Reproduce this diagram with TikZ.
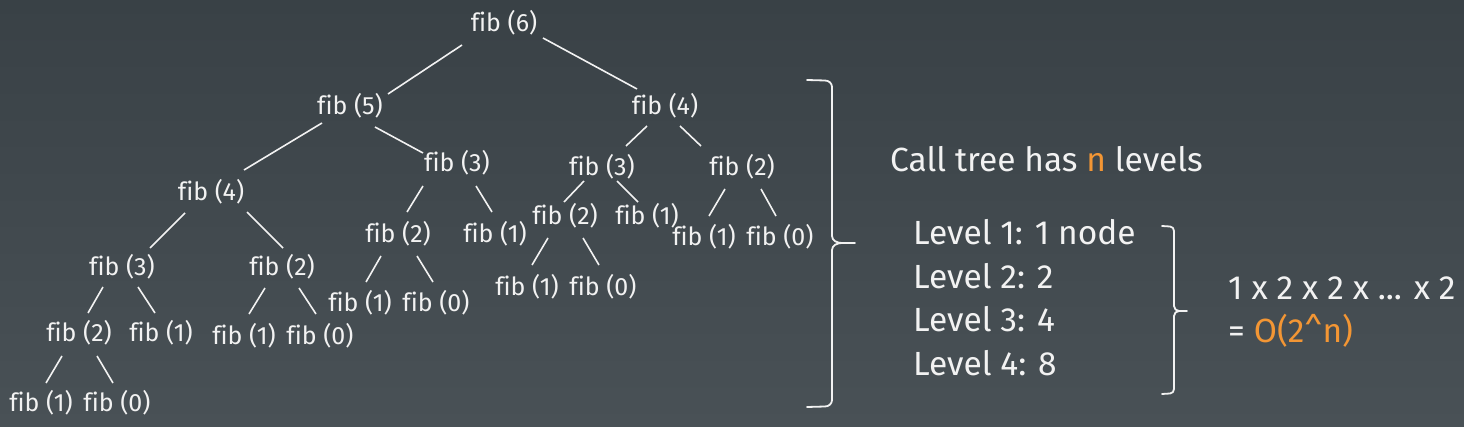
\documentclass[tikz,border=0pt]{standalone}
\usepackage{fontspec}
\setmainfont[Ligatures=NoCommon]{Fira Sans}
\newfontfamily\fibfont[Ligatures=NoCommon]{Fira Sans}
\definecolor{bgtop}{RGB}{57,65,70}
\definecolor{bgbot}{RGB}{73,81,86}
\definecolor{fg}{RGB}{242,242,242}
\definecolor{accent}{RGB}{243,150,52}
\newcommand\fedge[4]{\draw[edge] ([shift={#2}]#1.center) -- ([shift={#4}]#3.center);}
\begin{document}
\begin{tikzpicture}[x=1pt,y=-1pt,
  fib/.style={text=fg,font=\fibfont\fontsize{25}{25}\selectfont,inner sep=0pt,anchor=center},
  edge/.style={draw=fg,line width=1.6pt},
  txt/.style={text=fg,font=\fontsize{33.5}{33.5}\selectfont,inner sep=0pt,anchor=base west},
  bracepath/.style={draw=fg,line width=1.8pt,line cap=round,line join=round}]
\shade[top color=bgtop,bottom color=bgbot] (0,0) rectangle (1464,427);
\useasboundingbox (0,0) rectangle (1464,427);
% tree nodes
\node[fib] (a6) at (504,23) {fib (6)};
\node[fib] (b5) at (350,106) {fib (5)};
\node[fib] (c4) at (665,106) {fib (4)};
\node[fib] (d4) at (211,192) {fib (4)};
\node[fib] (e3) at (457,163) {fib (3)};
\node[fib] (f3) at (602,167) {fib (3)};
\node[fib] (g2) at (742,167) {fib (2)};
\node[fib] (h3) at (122,267) {fib (3)};
\node[fib] (i2) at (282,267) {fib (2)};
\node[fib] (j2) at (398,234) {fib (2)};
\node[fib] (k1) at (495,234) {fib (1)};
\node[fib] (l2) at (565,216) {fib (2)};
\node[fib] (m1) at (647,216) {fib (1)};
\node[fib] (n1) at (704,237) {fib (1)};
\node[fib] (o0) at (780,237) {fib (0)};
\node[fib] (p2) at (79,333) {fib (2)};
\node[fib] (q1) at (161,333) {fib (1)};
\node[fib] (r1) at (244,336) {fib (1)};
\node[fib] (s0) at (320,336) {fib (0)};
\node[fib] (t1) at (360,303) {fib (1)};
\node[fib] (u0) at (436,303) {fib (0)};
\node[fib] (v1) at (527,287) {fib (1)};
\node[fib] (w0) at (603,287) {fib (0)};
\node[fib] (x1) at (41,403) {fib (1)};
\node[fib] (y0) at (117,403) {fib (0)};
% tree edges
\fedge{a6}{(-42,22)}{b5}{(38,-12)}
\fedge{a6}{(39,15)}{c4}{(-28,-17)}
\fedge{b5}{(-28,17)}{d4}{(33,-22)}
\fedge{b5}{(25,21)}{e3}{(-34,-10)}
\fedge{c4}{(-18,20)}{f3}{(24,-21)}
\fedge{c4}{(15,20)}{g2}{(-41,-21)}
\fedge{e3}{(-34,23)}{j2}{(9,-22)}
\fedge{e3}{(19,23)}{k1}{(-3,-22)}
\fedge{f3}{(-18,14)}{l2}{(-1,-14)}
\fedge{f3}{(15,14)}{m1}{(-9,-14)}
\fedge{g2}{(-17,22)}{n1}{(5,-21)}
\fedge{g2}{(19,22)}{o0}{(-4,-21)}
\fedge{j2}{(-17,22)}{t1}{(6,-21)}
\fedge{j2}{(19,22)}{u0}{(-3,-21)}
\fedge{l2}{(-17,22)}{v1}{(5,-22)}
\fedge{l2}{(18,22)}{w0}{(-4,-22)}
\fedge{d4}{(-26,21)}{h3}{(28,-19)}
\fedge{d4}{(36,20)}{i2}{(1,-19)}
\fedge{h3}{(-19,20)}{p2}{(9,-20)}
\fedge{h3}{(16,20)}{q1}{(-6,-20)}
\fedge{i2}{(-17,21)}{r1}{(5,-22)}
\fedge{i2}{(17,21)}{s0}{(-4,-22)}
\fedge{p2}{(-17,23)}{x1}{(5,-20)}
\fedge{p2}{(18,23)}{y0}{(-4,-20)}
% big brace
\draw[bracepath] (807,80) -- (825,80.5) to[out=0,in=90] (832,87) -- (832,236) to[out=-90,in=180] (842,243) -- (855,243);
\draw[bracepath] (807,407) -- (825,406.5) to[out=0,in=-90] (832,400) -- (832,250) to[out=90,in=180] (842,243);
% small brace
\draw[bracepath] (1162,226) -- (1170,226.5) to[out=0,in=90] (1174,231) -- (1174,306) to[out=-90,in=180] (1179,311) -- (1187,311);
\draw[bracepath] (1162,394) -- (1170,393.5) to[out=0,in=-90] (1174,389) -- (1174,316) to[out=90,in=180] (1179,311);
% texts
\node[txt] (title) at (890,172) {Call tree has \textcolor{accent}{n} levels};
\node[txt] (lv1) at (913,245) {Level 1: 1 node};
\node[txt] (lv2) at (913,289) {Level 2: 2};
\node[txt] (lv3) at (913,332) {Level 3: 4};
\node[txt] (lv4) at (913,375) {Level 4: 8};
\node[txt] (prod) at (1228,300) {1 x 2 x 2 x ... x 2};
\node[txt] (res) at (1228,343) {= \textcolor{accent}{O(2\textasciicircum n)}};
\end{tikzpicture}
\end{document}
